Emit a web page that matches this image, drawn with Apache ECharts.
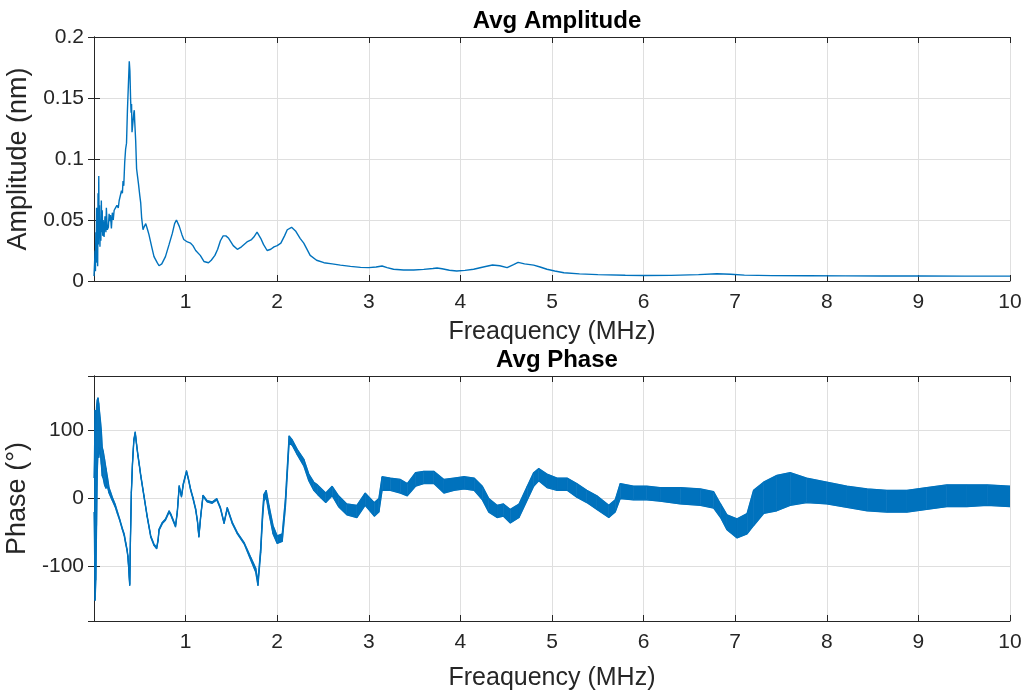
<!DOCTYPE html>
<html>
<head>
<meta charset="utf-8">
<script src="https://cdn.jsdelivr.net/npm/echarts@6/dist/echarts.min.js"></script>
<style>html,body{margin:0;padding:0;background:#fff}#c{width:1028px;height:695px}</style>
</head>
<body>
<div id="c"></div>
<script>
// ---------- DATA ----------
const titles = ['Avg Amplitude', 'Avg Phase'];
const xName = 'Freaquency (MHz)';
const yNames = ['Amplitude (nm)', 'Phase (°)'];
const xTicks = [1, 2, 3, 4, 5, 6, 7, 8, 9, 10];

const ampFreq = [0.000,0.008,0.012,0.016,0.020,0.024,0.028,0.032,0.036,0.040,0.044,0.048,0.052,0.056,0.060,0.065,0.070,0.075,0.080,0.085,0.090,0.095,0.100,0.110,0.120,0.130,0.135,0.145,0.157,0.165,0.170,0.180,0.190,0.200,0.210,0.220,0.235,0.250,0.265,0.275,0.290,0.300,0.310,0.317,0.325,0.335,0.345,0.355,0.365,0.375,0.385,0.392,0.400,0.405,0.410,0.415,0.425,0.435,0.440,0.445,0.455,0.465,0.475,0.485,0.500,0.510,0.520,0.535,0.545,0.565,0.585,0.600,0.630,0.655,0.690,0.710,0.740,0.780,0.820,0.855,0.880,0.900,0.915,0.930,0.960,0.980,1.020,1.055,1.080,1.110,1.160,1.200,1.220,1.250,1.280,1.320,1.350,1.380,1.410,1.440,1.470,1.520,1.565,1.610,1.670,1.720,1.745,1.780,1.800,1.820,1.850,1.890,1.930,1.965,2.000,2.040,2.080,2.110,2.157,2.200,2.250,2.290,2.360,2.430,2.510,2.600,2.690,2.800,2.910,3.000,3.080,3.145,3.200,3.270,3.380,3.490,3.600,3.700,3.745,3.800,3.880,3.960,4.050,4.145,4.250,4.350,4.430,4.510,4.580,4.630,4.700,4.800,4.870,4.945,5.030,5.130,5.300,5.500,5.800,6.000,6.300,6.600,6.800,6.950,7.100,7.400,7.800,8.200,8.600,9.000,9.500,10.000];
const ampValue = [0.004,0.003,0.025,0.008,0.040,0.015,0.060,0.020,0.050,0.012,0.072,0.030,0.086,0.035,0.062,0.028,0.050,0.033,0.066,0.040,0.058,0.037,0.050,0.036,0.053,0.040,0.060,0.042,0.044,0.055,0.049,0.054,0.043,0.056,0.050,0.058,0.060,0.062,0.060,0.066,0.067,0.074,0.072,0.082,0.078,0.097,0.108,0.113,0.140,0.160,0.180,0.172,0.148,0.138,0.145,0.122,0.130,0.138,0.140,0.130,0.115,0.092,0.086,0.080,0.070,0.064,0.052,0.042,0.044,0.047,0.042,0.038,0.028,0.020,0.015,0.0125,0.014,0.020,0.030,0.039,0.047,0.050,0.049,0.045,0.038,0.034,0.032,0.031,0.029,0.025,0.021,0.016,0.0145,0.015,0.017,0.021,0.026,0.033,0.037,0.037,0.035,0.029,0.026,0.028,0.032,0.034,0.036,0.040,0.039,0.035,0.030,0.025,0.026,0.028,0.029,0.031,0.037,0.042,0.044,0.041,0.035,0.031,0.021,0.017,0.015,0.014,0.013,0.012,0.0112,0.011,0.0115,0.0123,0.011,0.0096,0.009,0.009,0.0095,0.0103,0.0107,0.010,0.0088,0.0082,0.0087,0.0096,0.0115,0.0131,0.0125,0.011,0.0135,0.0153,0.014,0.013,0.0115,0.0096,0.0082,0.0068,0.0058,0.0052,0.0047,0.0045,0.0046,0.0052,0.0060,0.0055,0.0048,0.0044,0.0043,0.0042,0.0041,0.0041,0.0040,0.0040];

const phaseFreq = [0.000,0.005,0.012,0.020,0.028,0.036,0.044,0.052,0.060,0.070,0.080,0.090,0.100,0.115,0.130,0.146,0.164,0.180,0.200,0.230,0.255,0.280,0.310,0.330,0.346,0.360,0.370,0.380,0.390,0.398,0.408,0.420,0.435,0.450,0.465,0.480,0.495,0.510,0.545,0.580,0.620,0.655,0.684,0.700,0.710,0.746,0.780,0.820,0.840,0.855,0.890,0.910,0.930,0.955,0.975,1.010,1.030,1.055,1.080,1.110,1.130,1.145,1.165,1.190,1.235,1.290,1.340,1.380,1.420,1.455,1.510,1.565,1.640,1.710,1.765,1.790,1.820,1.840,1.855,1.880,1.910,1.955,2.000,2.055,2.090,2.130,2.165,2.220,2.290,2.345,2.400,2.440,2.530,2.600,2.670,2.760,2.870,2.960,3.060,3.110,3.145,3.235,3.345,3.420,3.510,3.600,3.710,3.820,3.930,4.040,4.150,4.240,4.310,4.400,4.470,4.545,4.640,4.730,4.800,4.855,4.945,5.055,5.165,5.270,5.380,5.490,5.620,5.690,5.745,5.890,6.035,6.180,6.400,6.620,6.765,6.840,6.910,7.020,7.130,7.200,7.310,7.455,7.600,7.780,8.000,8.220,8.440,8.655,8.875,9.090,9.310,9.530,9.750,10.000];
const phaseLow = [-20,-60,-150,-120,-40,40,70,60,75,65,50,33,30,20,15,18,8,3,-3,-12,-22,-32,-46,-55,-67,-76,-86,-105,-128,-60,8,50,85,96,78,62,48,33,3,-27,-57,-69,-74,-62,-47,-37,-32,-20,-25,-30,-42,-20,17,2,20,39,28,12,0,-17,-35,-57,-27,3,-5,-7,-2,-15,-37,-15,-37,-52,-67,-90,-108,-128,-80,-30,-4,2,-22,-52,-66,-63,-12,82,78,64,48,26,12,6,-6,4,-12,-24,-28,-10,-26,-20,12,12,8,4,18,22,22,8,12,14,12,-2,-20,-28,-26,-36,-28,-2,18,26,16,12,12,2,-6,-16,-28,-20,0,-2,-2,-4,-8,-10,-14,-28,-46,-58,-52,-40,-22,-18,-10,-6,-8,-13,-18,-20,-20,-16,-12,-12,-10,-12];
const phaseHigh = [30,60,130,110,135,145,148,140,128,115,100,75,70,58,45,32,16,10,2,-8,-19,-30,-44,-52,-64,-74,-84,-103,-126,-58,10,52,87,98,80,64,50,35,5,-25,-55,-67,-72,-60,-45,-35,-30,-18,-23,-28,-40,-18,19,4,22,41,30,14,2,-15,-33,-55,-25,5,-3,-5,0,-13,-35,-13,-35,-50,-65,-86,-102,-122,-72,-20,6,12,-10,-40,-55,-52,0,92,86,72,58,36,24,20,8,18,4,-8,-10,8,-6,0,32,30,28,22,38,40,40,28,30,32,30,18,0,-10,-8,-16,-8,18,38,44,36,30,30,22,12,4,-10,-2,22,18,18,16,16,14,10,-8,-24,-30,-22,12,24,34,38,30,24,18,14,12,12,16,20,20,20,18];

// ---------- CHART ----------
const FONT = 'Liberation Sans, Arial, Helvetica, sans-serif';
const TXT = '#262626';
const BLUE = '#0072BD';
const GRIDC = '#dfdfdf';

const ampData = ampFreq.map((f, i) => [f, ampValue[i]]);
const lowData = phaseFreq.map((f, i) => [f, phaseLow[i]]);
const highData = phaseFreq.map((f, i) => [f, phaseHigh[i]]);
const bandData = phaseFreq.map((f, i) => [f, phaseLow[i], phaseHigh[i]]);

function bandRenderItem(params, api) {
  const i = params.dataIndex;
  if (i >= bandData.length - 1) return null;
  const a = bandData[i], b = bandData[i + 1];
  const p1 = api.coord([a[0], a[1]]);
  const p2 = api.coord([a[0], a[2]]);
  const p3 = api.coord([b[0], b[2]]);
  const p4 = api.coord([b[0], b[1]]);
  return {
    type: 'polygon',
    shape: { points: [p1, p2, p3, p4] },
    style: { fill: BLUE, stroke: BLUE, lineWidth: 0.6 }
  };
}

function xAxisMain(gi) {
  return {
    type: 'value', gridIndex: gi, min: 0, max: 10, interval: 1,
    name: xName, nameLocation: 'middle', nameGap: gi === 0 ? 39 : 45,
    nameTextStyle: { fontFamily: FONT, fontSize: 25, color: TXT },
    axisLine: { show: true, onZero: false, lineStyle: { color: TXT, width: 1 } },
    axisTick: { show: true, inside: true, length: 6, lineStyle: { color: TXT } },
    axisLabel: { fontFamily: FONT, fontSize: 21, color: TXT, margin: 11,
      formatter: v => (xTicks.indexOf(v) >= 0 ? String(v) : '') },
    splitLine: { show: true, lineStyle: { color: GRIDC, width: 1 } }
  };
}
function xAxisTop(gi) {
  return {
    type: 'value', gridIndex: gi, min: 0, max: 10, interval: 1, position: 'top',
    axisLine: { show: true, onZero: false, lineStyle: { color: TXT, width: 1 } },
    axisTick: { show: true, inside: true, length: 6, lineStyle: { color: TXT } },
    axisLabel: { show: false }, splitLine: { show: false }
  };
}

const yLabelFmt0 = v => (v === 0 ? '0' : String(+v.toFixed(2)));
const yLabelFmt1 = v => (Math.abs(v) === 180 ? '' : String(v));

const option = {
  animation: false,
  backgroundColor: '#ffffff',
  title: [
    { text: titles[0], left: 552, top: 4, textAlign: 'center',
      textStyle: { fontFamily: FONT, fontSize: 24, fontWeight: 'bold', color: '#000' } },
    { text: titles[1], left: 552, top: 343, textAlign: 'center',
      textStyle: { fontFamily: FONT, fontSize: 24, fontWeight: 'bold', color: '#000' } }
  ],
  grid: [
    { left: 94, right: 18, top: 37, height: 244, containLabel: false, outerBoundsMode: 'none' },
    { left: 94, right: 18, top: 376, height: 245, containLabel: false, outerBoundsMode: 'none' }
  ],
  xAxis: [xAxisMain(0), xAxisTop(0), xAxisMain(1), xAxisTop(1)],
  yAxis: [
    { type: 'value', gridIndex: 0, min: 0, max: 0.2, interval: 0.05,
      name: yNames[0], nameLocation: 'middle', nameGap: 46,
      nameTextStyle: { fontFamily: FONT, fontSize: 27, color: TXT },
      axisLine: { show: true, lineStyle: { color: TXT } },
      axisTick: { show: true, inside: true, length: 6, lineStyle: { color: TXT } },
      axisLabel: { fontFamily: FONT, fontSize: 21, color: TXT, margin: 10, formatter: yLabelFmt0 },
      splitLine: { show: true, lineStyle: { color: GRIDC } } },
    { type: 'value', gridIndex: 0, min: 0, max: 0.2, interval: 0.05, position: 'right',
      axisLine: { show: true, lineStyle: { color: TXT } },
      axisTick: { show: true, inside: true, length: 6, lineStyle: { color: TXT } },
      axisLabel: { show: false }, splitLine: { show: false } },
    { type: 'value', gridIndex: 1, min: -180, max: 180, splitNumber: 5,
      name: yNames[1], nameLocation: 'middle', nameGap: 48,
      nameTextStyle: { fontFamily: FONT, fontSize: 27, color: TXT },
      axisLine: { show: true, lineStyle: { color: TXT } },
      axisTick: { show: true, inside: true, length: 6, lineStyle: { color: TXT } },
      axisLabel: { fontFamily: FONT, fontSize: 21, color: TXT, margin: 10, formatter: yLabelFmt1 },
      splitLine: { show: true, lineStyle: { color: GRIDC } } },
    { type: 'value', gridIndex: 1, min: -180, max: 180, splitNumber: 5, position: 'right',
      axisLine: { show: true, lineStyle: { color: TXT } },
      axisTick: { show: true, inside: true, length: 6, lineStyle: { color: TXT } },
      axisLabel: { show: false }, splitLine: { show: false } }
  ],
  series: [
    { type: 'line', xAxisIndex: 0, yAxisIndex: 0, data: ampData, showSymbol: false,
      lineStyle: { color: BLUE, width: 1.4 }, z: 3 },
    { type: 'custom', xAxisIndex: 2, yAxisIndex: 2, data: bandData,
      encode: { x: 0, y: [1, 2] }, renderItem: bandRenderItem, clip: true, z: 3 },
    { type: 'line', xAxisIndex: 2, yAxisIndex: 2, data: lowData, showSymbol: false,
      lineStyle: { color: BLUE, width: 1.3 }, z: 4 },
    { type: 'line', xAxisIndex: 2, yAxisIndex: 2, data: highData, showSymbol: false,
      lineStyle: { color: BLUE, width: 1.3 }, z: 4 }
  ]
};

const chart = echarts.init(document.getElementById('c'), null, { renderer: 'canvas' });
chart.setOption(option);
</script>
</body>
</html>
